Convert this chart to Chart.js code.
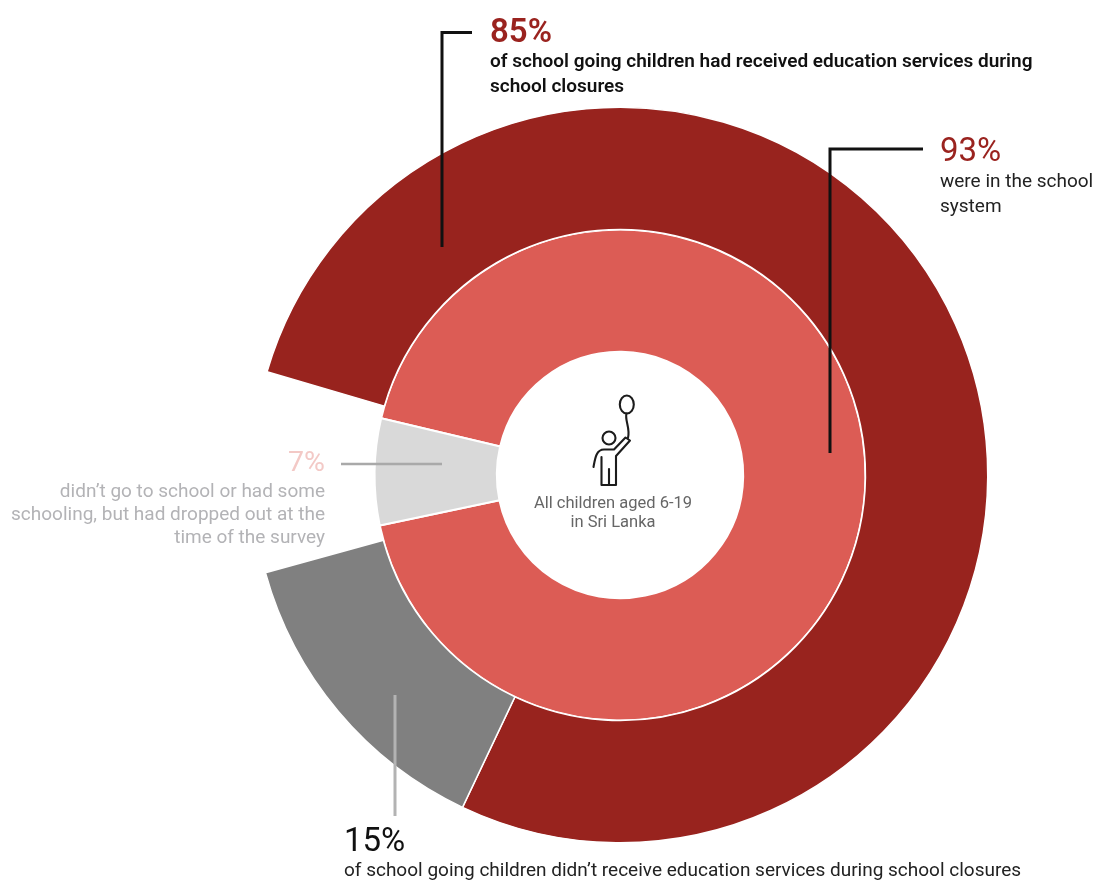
<!DOCTYPE html>
<html lang="en">
<head>
<meta charset="utf-8">
<title>Children aged 6-19 in Sri Lanka: schooling and education services</title>
<script src="https://cdn.jsdelivr.net/npm/chart.js@4"></script>
<style>
  html, body { margin: 0; padding: 0; background: #fff; }
  #stage { position: relative; width: 1095px; height: 881px; overflow: hidden; font-family: Roboto, sans-serif; }
  #chart { position: absolute; left: 0; top: 0; }
  .t { position: absolute; white-space: nowrap; }
  .big { font-size: 33px; line-height: 36px; }
  .body { font-size: 19px; line-height: 24.5px; }
  svg { position: absolute; left: 0; top: 0; }
</style>
</head>
<body>
<div id="stage">
  <canvas id="chart" width="1095" height="881"></canvas>
  <svg width="1095" height="881" fill="none" stroke="#1c1c1c" stroke-width="2.1" stroke-linecap="round" stroke-linejoin="round">
    <ellipse cx="626.8" cy="404.5" rx="7" ry="9"/>
    <path d="M626.5 413.5 C624.5 420 630.5 428 628 438"/>
    <circle cx="609" cy="438" r="6.5"/>
    <path d="M593.5 467 C595 459 596 449.5 604 449.5 L614 449.5 L625.5 437.5 L630 440.5 L616 456 L616 485 L601.5 485 L601.5 457"/>
    <path d="M609 469 L609 485"/>
  </svg>
  <div class="t big" style="left:490px;top:13px;color:#9a231f;font-weight:600">85%</div>
  <div class="t body" style="left:490px;top:49px;color:#111;font-weight:600">of school going children had received education services during<br>school closures</div>
  <div class="t big" style="left:940px;top:132px;color:#9a231f">93%</div>
  <div class="t body" style="left:940px;top:169px;color:#222">were in the school<br>system</div>
  <div class="t big" style="right:770px;top:444px;color:#f3c9c6;font-size:28.5px;text-align:right">7%</div>
  <div class="t body" style="right:770px;top:479px;color:#b3b3b6;text-align:right;line-height:23px">didn’t go to school or had some<br>schooling, but had dropped out at the<br>time of the survey</div>
  <div class="t big" style="left:344px;top:822px;color:#111">15%</div>
  <div class="t body" style="left:344px;top:858px;color:#222">of school going children didn’t receive education services during school closures</div>
  <div class="t" style="left:513px;width:200px;top:493px;color:#666;font-size:16.5px;line-height:19px;text-align:center">All children aged 6-19<br>in Sri Lanka</div>
</div>
<script>
// Ring contents, in percent
const innerCategories = ["In the school system", "Not in school or dropped out"];
const innerValues = [93, 7];
const outerCategories = ["Received education services", "Did not receive education services"];
const outerValues = [85, 15];
const innerColors = ["#dc5c55", "#d9d9d9"];
const outerColors = ["#98231e", "#808080"];

// Callout rules, pixel paths on the canvas
const callouts = [
  { color: "#111", width: 3, path: [[472, 32.5], [442, 32.5], [442, 247]] },
  { color: "#111", width: 3, path: [[923, 149], [830, 149], [830, 453]] },
  { color: "#a9a9a9", width: 2.5, path: [[341, 464], [442, 464]] },
  { color: "#b3b3b3", width: 3, path: [[395, 695], [395, 816]] }
];

const calloutPlugin = {
  id: "callouts",
  afterDraw(chart) {
    const c = chart.ctx;
    c.save();
    for (const rule of callouts) {
      c.beginPath();
      rule.path.forEach(([x, y], i) => (i ? c.lineTo(x, y) : c.moveTo(x, y)));
      c.strokeStyle = rule.color;
      c.lineWidth = rule.width;
      c.lineJoin = "miter";
      c.stroke();
    }
    c.restore();
  }
};

new Chart(document.getElementById("chart"), {
  type: "doughnut",
  data: {
    labels: innerCategories.concat(outerCategories),
    datasets: [
      {
        label: "School-going children",
        data: outerValues,
        backgroundColor: outerColors,
        borderColor: "#fff",
        borderWidth: 1.5,
        rotation: 286.3,
        circumference: 328.3
      },
      {
        label: "All children aged 6-19",
        data: innerValues,
        backgroundColor: innerColors,
        borderColor: "#fff",
        borderWidth: 2,
        rotation: 283.35,
        circumference: 360
      }
    ]
  },
  options: {
    responsive: false,
    animation: false,
    cutout: "33.5%",
    layout: { padding: { left: 251.5, right: 106.5, top: 106.5, bottom: 37.5 } },
    plugins: { legend: { display: false }, tooltip: { enabled: false } }
  },
  plugins: [calloutPlugin]
});
</script>
</body>
</html>
